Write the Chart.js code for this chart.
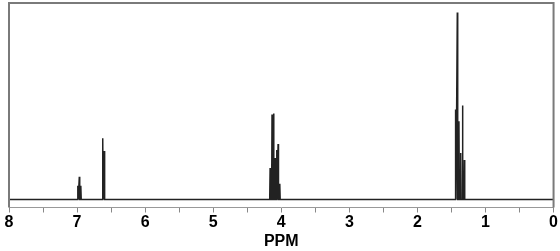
<!DOCTYPE html>
<html>
<head>
<meta charset="utf-8">
<script src="https://cdn.jsdelivr.net/npm/chart.js@4.4.1/dist/chart.umd.min.js"></script>
<style>
  html, body { margin: 0; padding: 0; background: #fff; }
  #wrap { width: 560px; height: 251px; }
</style>
</head>
<body>
<div id="wrap"><canvas id="nmr"></canvas></div>
<script>
// 1H NMR spectrum, peak list (ppm, relative height)
const peakPpm = [6.989, 6.967, 6.945, 6.623, 6.601,
    4.164, 4.136, 4.113, 4.088, 4.066, 4.047, 4.022,
    1.439, 1.414, 1.390, 1.364, 1.338, 1.311]
const peakHeight = [14, 23, 14, 62, 49,
    32, 86, 87, 42, 50, 56, 16,
    91, 189, 79, 47, 95, 40]
const ppmRange = [0, 8]
const tickLabels = ['0', '1', '2', '3', '4', '5', '6', '7', '8']
const axisTitle = 'PPM'

// each peak is a narrow spike on a flat baseline
function buildSpectrum() {
    const halfWidth = 0.006
    const pts = [{ x: ppmRange[1], y: 0 }]
    const order = peakPpm.map((p, i) => i).sort((a, b) => peakPpm[b] - peakPpm[a])
    for (const i of order) {
        pts.push({ x: peakPpm[i] + halfWidth, y: 0 })
        pts.push({ x: peakPpm[i], y: peakHeight[i] })
        pts.push({ x: peakPpm[i] - halfWidth, y: 0 })
    }
    pts.push({ x: ppmRange[0], y: 0 })
    return pts
}

const framePlugin = {
    id: 'frame',
    afterDraw(chart) {
        const { ctx, chartArea: a } = chart
        ctx.save()
        ctx.strokeStyle = '#7a7a7a'
        ctx.lineWidth = 2
        ctx.beginPath()
        ctx.moveTo(a.left, a.bottom)
        ctx.lineTo(a.left, a.top)
        ctx.lineTo(a.right, a.top)
        ctx.lineTo(a.right, a.bottom)
        ctx.stroke()
        ctx.restore()
    }
}

new Chart(document.getElementById('nmr'), {
    type: 'scatter',
    data: {
        datasets: [{
            data: buildSpectrum(),
            showLine: true,
            borderColor: '#222',
            borderWidth: 1.5,
            pointRadius: 0,
            tension: 0
        }]
    },
    options: {
        responsive: true,
        maintainAspectRatio: false,
        animation: false,
        layout: { padding: { left: 9, right: 6, top: 3, bottom: 0 } },
        plugins: { legend: { display: false }, tooltip: { enabled: false } },
        scales: {
            x: {
                type: 'linear',
                reverse: true,
                min: ppmRange[0],
                max: ppmRange[1],
                border: { color: '#999', width: 1 },
                grid: { drawOnChartArea: false, tickLength: 5, color: '#888' },
                ticks: {
                    stepSize: 0.5,
                    padding: 2,
                    color: '#000',
                    maxRotation: 0,
                    font: { family: 'Liberation Sans', size: 16, weight: 'bold', lineHeight: 1 },
                    callback: v => Number.isInteger(v) ? tickLabels[v] : ''
                },
                title: {
                    display: true,
                    text: axisTitle,
                    color: '#000',
                    padding: { top: 1.5, bottom: 1 },
                    font: { family: 'Liberation Sans', size: 16, weight: 'bold', lineHeight: 1 }
                }
            },
            y: {
                display: false,
                min: -8,
                max: 198.5
            }
        }
    },
    plugins: [framePlugin]
})
</script>
</body>
</html>
